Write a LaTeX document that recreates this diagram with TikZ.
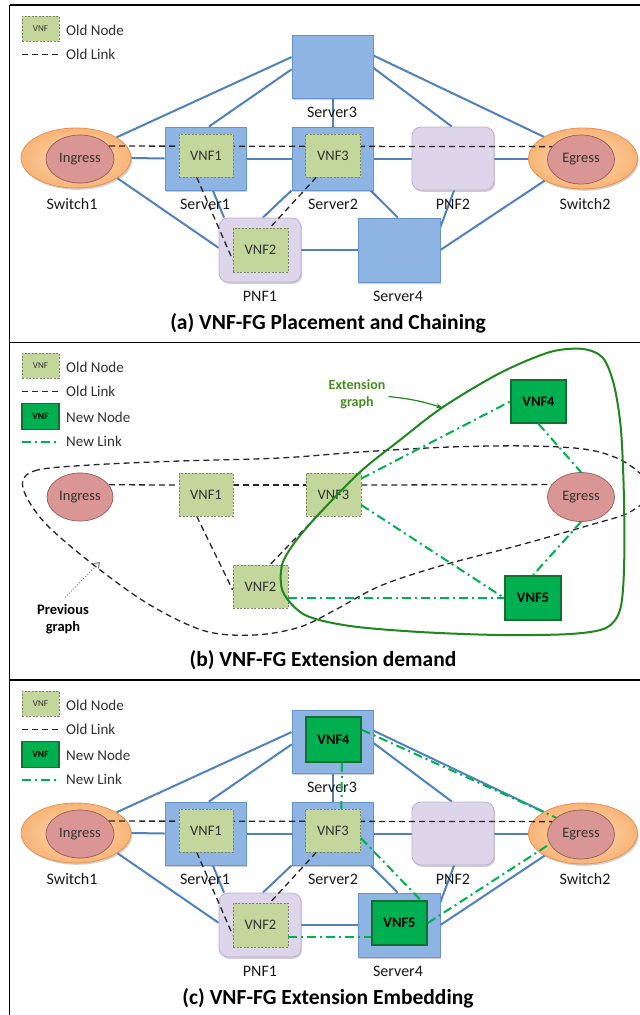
\documentclass[tikz,border=0pt]{standalone}
\usepackage{fontspec}
\setmainfont{Carlito}
\usetikzlibrary{shapes.geometric,shadows,calc,arrows.meta}
\pgfdeclarelayer{paper}
\pgfdeclarelayer{blinks}
\pgfdeclarelayer{shapes}
\pgfdeclarelayer{olinks}
\pgfdeclarelayer{top}
\pgfsetlayers{paper,blinks,shapes,olinks,main,top}
\definecolor{srvblue}{RGB}{141,180,227}
\definecolor{srvedge}{RGB}{104,148,204}
\definecolor{linkblue}{RGB}{79,129,189}
\definecolor{pnffill}{RGB}{221,213,234}
\definecolor{pnfedge}{RGB}{188,176,210}
\definecolor{swfill}{RGB}{248,180,118}
\definecolor{swedge}{RGB}{226,148,88}
\definecolor{swlight}{RGB}{253,222,184}
\definecolor{rosefill}{RGB}{217,150,148}
\definecolor{roseedge}{RGB}{150,90,88}
\definecolor{vnffill}{RGB}{195,214,155}
\definecolor{vnfedge}{RGB}{120,135,95}
\definecolor{newfill}{RGB}{0,176,80}
\definecolor{newedge}{RGB}{20,110,45}
\definecolor{newlinkc}{RGB}{0,176,80}
\definecolor{extgreen}{RGB}{30,135,30}
\definecolor{extlabel}{RGB}{70,140,30}
\definecolor{txtgray}{RGB}{50,50,50}
\tikzset{
  shd/.style={drop shadow={shadow xshift=1.2pt, shadow yshift=-1.8pt, opacity=0.3, fill=black!60}},
  server/.style={rectangle, fill=srvblue, draw=srvedge, line width=0.8pt, minimum width=81pt, minimum height=63pt, inner sep=0pt, shd},
  pnf/.style={rectangle, rounded corners=9pt, fill=pnffill, draw=pnfedge, line width=0.8pt, minimum width=82pt, minimum height=64pt, inner sep=0pt, shd},
  switch/.style={ellipse, inner color=swlight, outer color=swfill, draw=swedge, line width=0.8pt, minimum width=110pt, minimum height=60pt, inner sep=0pt, shd},
  endpt/.style={ellipse, fill=rosefill, draw=roseedge, line width=0.7pt, minimum width=68pt, minimum height=48pt, inner sep=0pt, text=txtgray, font=\fontsize{14.5}{17}\selectfont},
  oldvnf/.style={rectangle, fill=vnffill, draw=vnfedge, line width=0.6pt, dash pattern=on 2pt off 1.5pt, minimum width=54pt, minimum height=43pt, inner sep=0pt, text=txtgray, font=\fontsize{14.5}{17}\selectfont},
  newvnf/.style={rectangle, fill=newfill, draw=newedge, line width=1.6pt, minimum width=55pt, minimum height=43pt, inner sep=0pt, text=black, font=\bfseries\fontsize{14.5}{17}\selectfont},
  link/.style={draw=linkblue, line width=2pt},
  oldlink/.style={draw=black!85, line width=1.3pt, dash pattern=on 6pt off 4pt},
  newlinkst/.style={draw=newlinkc, line width=2pt, dash pattern=on 9pt off 4pt on 2pt off 4pt},
  lbl/.style={inner sep=0pt, text=black!90, font=\fontsize{16}{18}\selectfont},
  legtxt/.style={anchor=west, inner sep=0pt, text=txtgray, font=\fontsize{15}{17}\selectfont},
  captionst/.style={inner sep=0pt, text=black, font=\bfseries\fontsize{21.5}{24}\selectfont},
  frame/.style={draw=black, line width=1.5pt}
}
\newcommand\legOld{%
  \node[oldvnf, minimum width=37pt, minimum height=25pt, font=\fontsize{9}{10}\selectfont] (lgv) at (40.5,28.5) {VNF};
  \node[legtxt] (lgvt) at (66,30) {Old Node};
  \coordinate (lgla) at (22,54.5);
  \coordinate (lglb) at (59,54.5);
  \draw[oldlink] (lgla) -- (lglb);
  \node[legtxt] (lglt) at (66,54.5) {Old Link};
}
\newcommand\legNew{%
  \node[newvnf, minimum width=37pt, minimum height=26pt, font=\bfseries\fontsize{9.5}{10}\selectfont] (lgn) at (40.5,79.5) {VNF};
  \node[legtxt] (lgnt) at (66,80) {New Node};
  \coordinate (lgna) at (22,104.5);
  \coordinate (lgnb) at (58,104.5);
  \draw[newlinkst] (lgna) -- (lgnb);
  \node[legtxt] (lgnlt) at (66,104.5) {New Link};
}
\newcommand\netbase{%
  \begin{pgfonlayer}{shapes}
    \node[server] (srv3) at (332.5,66.5) {};
    \node[server] (srv1) at (205.5,158.5) {};
    \node[server] (srv2) at (332.5,158.5) {};
    \node[server, minimum width=82pt, minimum height=64pt] (srv4) at (399,250) {};
    \node[pnf] (pnf1) at (260,250) {};
    \node[pnf, minimum height=63pt] (pnf2) at (453,158.5) {};
    \node[switch] (sw1) at (76,158) {};
    \node[endpt] (ing) at (80,159) {Ingress};
    \node[switch, minimum width=109pt, minimum height=61pt] (sw2) at (583,158.5) {};
    \node[endpt, minimum width=67pt, minimum height=49pt] (egr) at (581,159.5) {Egress};
  \end{pgfonlayer}
  \node[lbl] (srv3l) at (332,112) {Server3};
  \node[lbl] (srv1l) at (205,204) {Server1};
  \node[lbl] (srv2l) at (333,204) {Server2};
  \node[lbl] (pnf2l) at (453,204) {PNF2};
  \node[lbl] (sw1l) at (72,204) {Switch1};
  \node[lbl] (sw2l) at (585,204) {Switch2};
  \node[lbl] (pnf1l) at (260,296) {PNF1};
  \node[lbl] (srv4l) at (398,296) {Server4};
  \begin{pgfonlayer}{blinks}
    \draw[link] (sw1.27) -- (srv3.167);
    \draw[link] (srv1.84) -- (srv3.184);
    \draw[link] (sw1.east) -- (srv1.west);
    \draw[link] (srv1.east) -- (srv2.west);
    \draw[link] (sw1.-26) -- (pnf1.177);
    \draw[link] (srv1.283) -- (pnf1.138);
    \draw[link] (srv2.south west) -- (pnf1.85);
    \draw[link] (pnf1.east) -- (srv4.west);
    \draw[link] (srv2.320) -- (srv4.92);
    \draw[link] (srv3.south) -- (srv2.north);
    \draw[link] (srv3.15) -- (sw2.151);
    \draw[link] (srv3.358) -- (pnf2.92);
    \draw[link] (srv2.east) -- (pnf2.west);
    \draw[link] (pnf2.east) -- (sw2.west);
    \draw[link] (pnf2.272) -- (srv4.29);
    \draw[link] (srv4.east) -- (sw2.210);
  \end{pgfonlayer}
  \node[oldvnf] (v1) at (206,155.5) {VNF1};
  \node[oldvnf, minimum width=55pt] (v3) at (333,155.5) {VNF3};
  \node[oldvnf, minimum width=55pt, minimum height=44pt] (v2) at (260.5,250) {VNF2};
  \begin{pgfonlayer}{olinks}
    \draw[oldlink] (ing.24) -- (egr.156);
    \draw[oldlink] ($(v1.south west)!0.33!(v1.south east)$) -- ([yshift=-10pt]v2.west);
    \draw[oldlink] ($(v3.south west)!0.2!(v3.south east)$) -- ($(v2.north west)!0.67!(v2.north east)$);
  \end{pgfonlayer}
}
\begin{document}
\begin{tikzpicture}[x=1pt,y=-1pt]
\useasboundingbox (0,0) rectangle (640,1015);
\begin{pgfonlayer}{paper}
  \fill[white] (0,0) rectangle (640,1015);
\end{pgfonlayer}
% frames
\draw[frame] (9.5,5) -- (640,5);
\draw[frame] (9.5,342.5) -- (640,342.5);
\draw[frame] (9.5,680) -- (640,680);
\draw[frame] (9.5,5) -- (9.5,1015);

% ---------- panel (a)
\begin{scope}[name prefix=a-]
  \legOld
  \netbase
\end{scope}
\node[captionst] (capa) at (328,323) {(a) VNF-FG Placement and Chaining};

% ---------- panel (b)
\begin{scope}[shift={(0,337)}, name prefix=b-]
  \legOld
  \legNew
\end{scope}
\node[endpt, minimum width=66pt, minimum height=48pt] (b-ing) at (80,497) {Ingress};
\node[oldvnf] (b-v1) at (206,494.5) {VNF1};
\node[oldvnf, minimum width=55pt] (b-v3) at (333.5,494.5) {VNF3};
\node[oldvnf, minimum width=55pt] (b-v2) at (260.5,586.5) {VNF2};
\node[endpt, minimum width=67pt, minimum height=49pt] (b-egr) at (581,497) {Egress};
\node[newvnf] (b-v4) at (538.5,401.5) {VNF4};
\node[newvnf, minimum width=56pt, minimum height=44pt] (b-v5) at (533,598) {VNF5};
\begin{pgfonlayer}{olinks}
  \draw[oldlink] (b-ing.23) -- ([yshift=9.5pt]b-v1.west);
  \draw[oldlink] ([yshift=9.5pt]b-v1.east) -- ([yshift=9.5pt]b-v3.west);
  \draw[oldlink] ([yshift=9.5pt]b-v3.east) -- (b-egr.157);
  \draw[oldlink] ($(b-v1.south west)!0.33!(b-v1.south east)$) -- ([yshift=-3.5pt]b-v2.west);
  \draw[oldlink] ($(b-v3.south west)!0.2!(b-v3.south east)$) -- ($(b-v2.north west)!0.67!(b-v2.north east)$);
\end{pgfonlayer}
% previous graph
\begin{scope}
  \clip (10,343) rectangle (640,680);
  \draw[black!85, line width=1.3pt, dash pattern=on 6pt off 4pt] plot[smooth cycle, tension=0.55] coordinates {
    (23,488) (34,471) (90,465) (180,461) (280,458) (360,452) (450,447) (530,446)
    (590,450) (628,464) (652,490) (630,512) (590,525) (520,545) (440,566) (380,586)
    (335,610) (300,627) (255,635) (205,631) (150,605) (95,566) (45,523)};
\end{scope}
% extension graph
\draw[extgreen, line width=2pt] plot[smooth cycle, tension=0.5] coordinates {
  (318,515) (360,472) (400,440) (443,407) (500,373) (550,352) (583,349) (603,358)
  (614,385) (621,430) (624,500) (624,570) (620,610) (606,628) (570,634) (500,635)
  (420,632) (350,626) (305,615) (283,592) (282,565) (295,542)};
\begin{pgfonlayer}{top}
  \draw[newlinkst] ([yshift=16pt]b-v3.east) -- (b-v4.west);
  \draw[newlinkst] ([yshift=-10.5pt]b-v3.east) -- (b-v5.west);
  \draw[newlinkst] (b-v4.south) -- (b-egr.north);
  \draw[newlinkst] (b-egr.south) -- (b-v5.north);
  \draw[newlinkst] ([yshift=-11.5pt]b-v2.east) -- (b-v5.west);
\end{pgfonlayer}
\node[inner sep=0pt, align=center, text=extlabel, font=\bfseries\fontsize{14}{17}\selectfont] (extl) at (357,394.5) {Extension\\graph};
\coordinate (extpt) at (443,408);
\draw[extgreen, line width=1.2pt, -{Stealth[length=7pt,width=5pt]}] ([xshift=3pt,yshift=-2pt]extl.east) to[bend left=6] (extpt);
\node[inner sep=0pt, align=center, text=black, font=\bfseries\fontsize{14.5}{17}\selectfont] (prevl) at (63,619.5) {Previous\\graph};
\coordinate (prevpt) at (100,562);
\draw[black!55, line width=0.9pt, dotted, -{Straight Barb[length=5pt,width=7pt]}] ([xshift=2pt,yshift=7pt]prevl.north) -- (prevpt);
\node[captionst] (capb) at (323,660) {(b) VNF-FG Extension demand};

% ---------- panel (c)
\begin{scope}[shift={(0,675)}, name prefix=c-]
  \legOld
  \legNew
  \netbase
  \node[newvnf, minimum width=55pt, minimum height=45pt] (v4) at (333.5,64.5) {VNF4};
  \node[newvnf, minimum width=55pt, minimum height=44pt] (v5) at (399.5,248) {VNF5};
  \begin{pgfonlayer}{top}
    \draw[newlinkst] (v4.19) -- (egr.146);
    \draw[newlinkst] ($(v4.south west)!0.65!(v4.south east)$) -- ($(v3.north west)!0.65!(v3.north east)$);
    \draw[newlinkst] (v3.345) -- (v5.47);
    \draw[newlinkst] (v5.east) -- (egr.197);
    \draw[newlinkst] ([yshift=-12pt]v2.east) -- ([yshift=-14pt]v5.west);
  \end{pgfonlayer}
\end{scope}
\node[captionst] (capc) at (328,998) {(c) VNF-FG Extension Embedding};
\end{tikzpicture}
\end{document}
